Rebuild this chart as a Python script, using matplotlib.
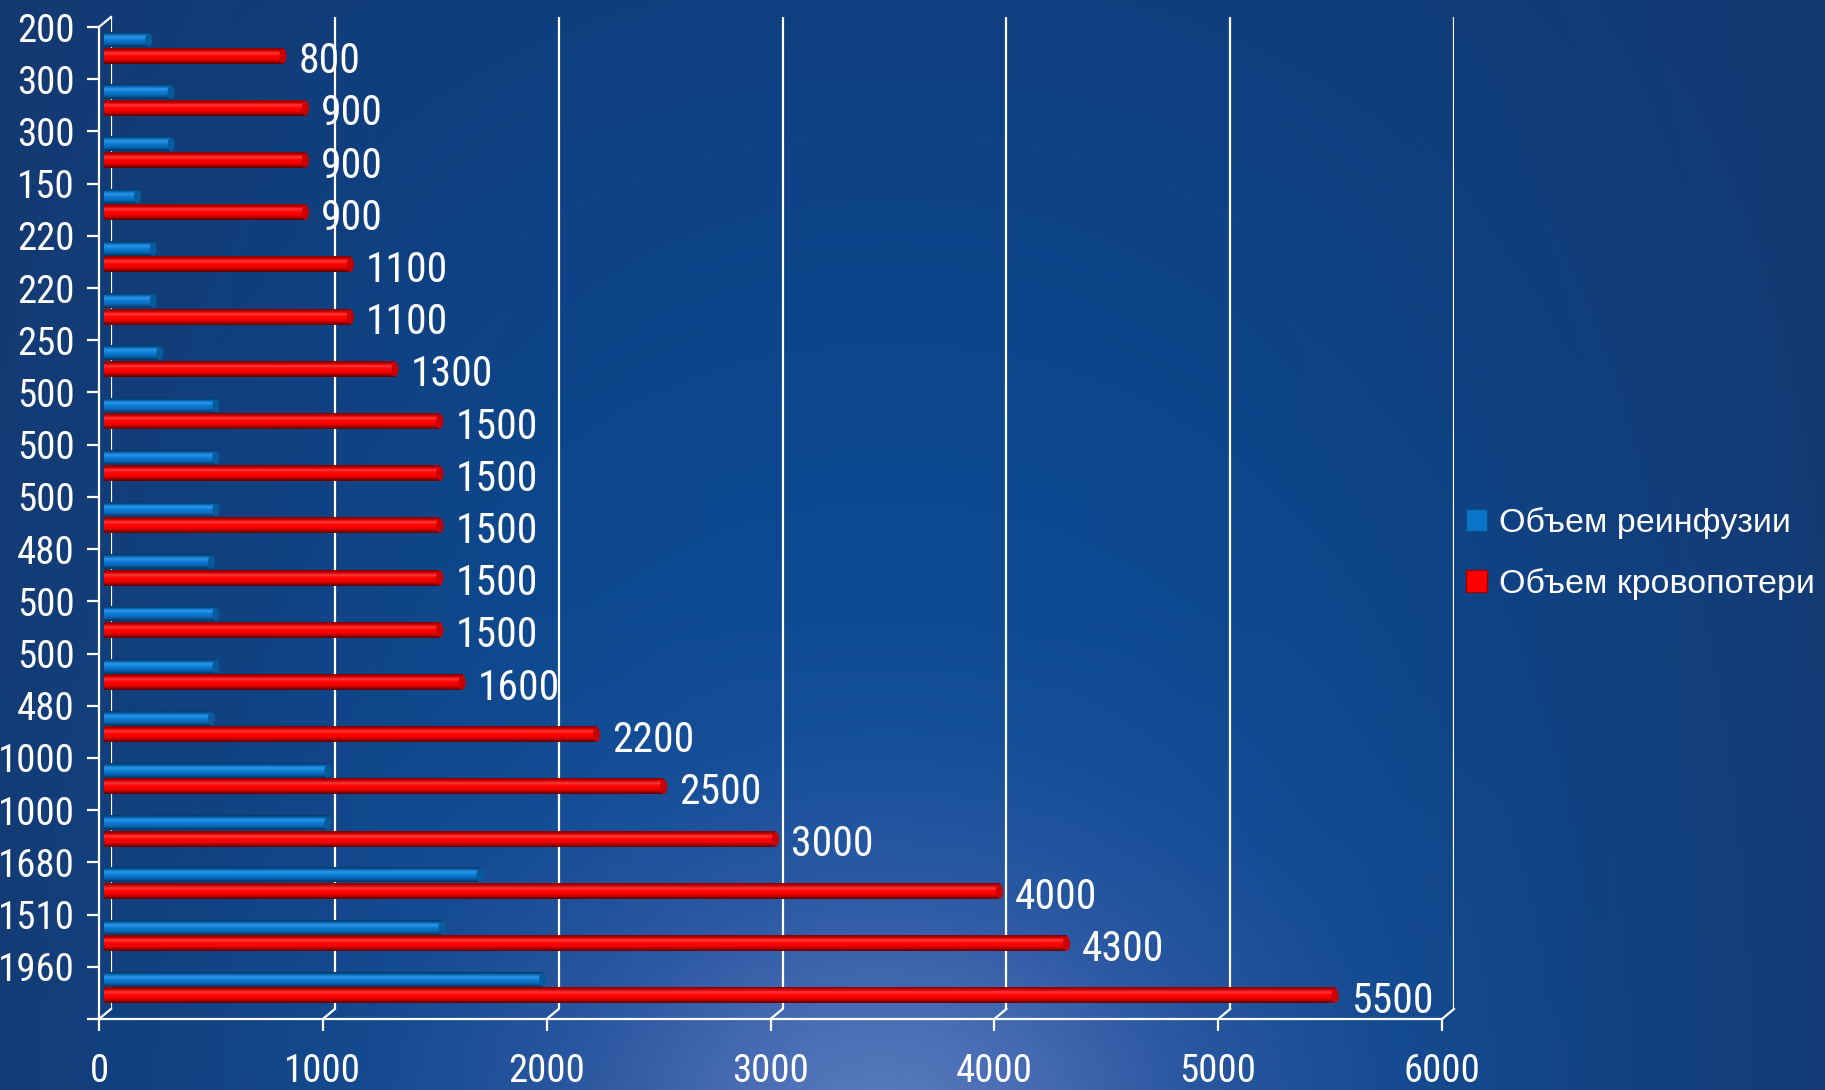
import numpy as np
import matplotlib
matplotlib.use("Agg")
import matplotlib.pyplot as plt
from matplotlib import font_manager
from matplotlib.colors import to_rgb
from matplotlib.lines import Line2D
from matplotlib.patches import Patch, Ellipse

# blood volume per patient, ml
reinfusion = [200, 300, 300, 150, 220, 220, 250, 500, 500, 500,
              480, 500, 500, 480, 1000, 1000, 1680, 1510, 1960]
blood_loss = [800, 900, 900, 900, 1100, 1100, 1300, 1500, 1500, 1500,
              1500, 1500, 1600, 2200, 2500, 3000, 4000, 4300, 5500]
x_ticks = [0, 1000, 2000, 3000, 4000, 5000, 6000]
legend_labels = ["Объем реинфузии", "Объем кровопотери"]

W, H = 1825, 1090


def box(left, top, right, bottom):
    # pixel rectangle -> figure fraction
    return [left / W, 1 - bottom / H, (right - left) / W, (bottom - top) / H]


def narrow_font():
    # returns (family, stretch) of the narrowest sans available
    fonts = font_manager.fontManager.ttflist
    names = set(f.name for f in fonts)
    for n in ["Liberation Sans Narrow", "Arial Narrow", "Roboto Condensed",
              "Open Sans Condensed", "Noto Sans Condensed"]:
        if n in names:
            return n, "normal"
    for f in fonts:
        if f.name in ("Roboto", "Noto Sans", "Open Sans", "DejaVu Sans") and \
                "ondensed" in f.fname and "Bold" not in f.fname and \
                "Italic" not in f.fname and "Oblique" not in f.fname:
            return f.name, "condensed"
    for n in ["Roboto", "Liberation Sans"]:
        if n in names:
            return n, "normal"
    return "DejaVu Sans", "normal"


def background():
    yy, xx = np.mgrid[0:H, 0:W].astype(float)
    d = np.sqrt(((xx - 880) / 700.0) ** 2 + ((yy - 1120) / 520.0) ** 2)
    stops = [0.0, 0.2, 0.45, 0.75, 1.1, 1.6, 2.4]
    cols = np.array([[0.36, 0.49, 0.75],
                     [0.29, 0.43, 0.71],
                     [0.17, 0.35, 0.64],
                     [0.08, 0.31, 0.60],
                     [0.05, 0.29, 0.57],
                     [0.05, 0.27, 0.54],
                     [0.06, 0.24, 0.49]])
    img = np.zeros((H, W, 3))
    for c in range(3):
        img[..., c] = np.interp(d, stops, cols[:, c])
    # darker towards the left and right edges
    edge = np.clip(np.abs(xx - 900) / 920.0, 0, 1) ** 2.2
    dark = np.array([0.09, 0.22, 0.43])
    img = img * (1 - 0.75 * edge[..., None]) + dark * 0.75 * edge[..., None]
    return np.clip(img, 0, 1)


def cylinder(ax, y, h, val, profile, cap):
    grad = np.array([to_rgb(c) for c in profile])[:, None, :]
    ax.imshow(grad, extent=(0, val, y + h / 2, y - h / 2), aspect="auto",
              interpolation="bilinear", zorder=3)
    ax.add_patch(Ellipse((0, y), 28, h, facecolor=profile[len(profile) // 2],
                         edgecolor="none", zorder=2))
    ax.add_patch(Ellipse((val, y), 32, h * 0.96, facecolor=cap,
                         edgecolor="none", zorder=4))


def main():
    family, stretch = narrow_font()
    plt.rcParams["font.family"] = [family, "DejaVu Sans"]
    plt.rcParams["font.stretch"] = stretch
    wide = family in ("Roboto", "Liberation Sans", "DejaVu Sans") and stretch == "normal"
    num_size = 26 if wide else 30
    tick_size = 24 if wide else 28

    fig = plt.figure(figsize=(W / 100, H / 100), dpi=100)

    ax_bg = fig.add_axes([0, 0, 1, 1], zorder=-10)
    ax_bg.imshow(background(), aspect="auto", extent=(0, 1, 0, 1))
    ax_bg.axis("off")

    n = len(reinfusion)

    # back wall with the grid
    ax_back = fig.add_axes(box(111, 17, 1454, 1009), zorder=1)
    ax_back.set_xlim(0, 6000)
    ax_back.set_ylim(n, 0)
    ax_back.patch.set_visible(False)
    for s in ax_back.spines.values():
        s.set_visible(False)
    ax_back.set_xticks([])
    ax_back.set_yticks([])
    for x in x_ticks:
        ax_back.axvline(x, color="white", lw=1.6)

    # bars
    ax_bars = fig.add_axes(box(104, 22, 1447, 1014), zorder=2)
    ax_bars.patch.set_visible(False)
    ax_bars.axis("off")
    blue_prof = ["#05406f", "#0a6cc0", "#2a95e6", "#1a88dc", "#0b78d0",
                 "#0a6ebf", "#08589c", "#063a6c"]
    red_prof = ["#8a0000", "#e00000", "#ff3a3a", "#ff1010", "#ff0000",
                "#f00000", "#c00000", "#6a0000"]
    for i in range(n):
        cylinder(ax_bars, i + 0.345, 0.27, reinfusion[i], blue_prof, "#075a9c")
        cylinder(ax_bars, i + 0.65, 0.29, blood_loss[i], red_prof, "#c80000")
        ax_bars.text(blood_loss[i] + 70, i + 0.76, str(blood_loss[i]),
                     color="white", fontsize=num_size, va="center", ha="left")
    ax_bars.set_xlim(0, 6000)
    ax_bars.set_ylim(n, 0)

    # front frame with the ticks
    ax = fig.add_axes(box(99, 27, 1442, 1019), zorder=3)
    ax.patch.set_visible(False)
    ax.set_xlim(0, 6000)
    ax.set_ylim(n, 0)
    ax.spines["top"].set_visible(False)
    ax.spines["right"].set_visible(False)
    for s in ("left", "bottom"):
        ax.spines[s].set_color("white")
        ax.spines[s].set_linewidth(1.6)
    ax.set_xticks(x_ticks)
    ax.set_xticklabels([str(v) for v in x_ticks])
    ax.set_yticks(range(n + 1))
    ax.set_yticklabels([str(v) for v in reinfusion] + [""])
    ax.tick_params(axis="both", colors="white", width=1.6, length=8.5,
                   direction="out")
    ax.tick_params(axis="y", labelsize=tick_size, pad=9)
    ax.tick_params(axis="x", labelsize=tick_size, pad=16)

    # depth edges between front frame and back wall
    to_fig = fig.transFigure.inverted()
    pairs = [((x, n), (x, n)) for x in x_ticks] + [((0, 0), (0, 0))]
    for p_front, p_back in pairs:
        a = to_fig.transform(ax.transData.transform(p_front))
        b = to_fig.transform(ax_back.transData.transform(p_back))
        fig.add_artist(Line2D([a[0], b[0]], [a[1], b[1]], color="white",
                              lw=1.6, transform=fig.transFigure, zorder=5))

    handles = [Patch(facecolor="#0a74c8", edgecolor="#0a4f8a"),
               Patch(facecolor="#ff0000", edgecolor="#a00000")]
    fig.legend(handles, legend_labels, loc="center left",
               bbox_to_anchor=(1466 / W, 1 - 553.5 / H), frameon=False,
               prop={"family": ["Liberation Sans", "DejaVu Sans"], "size": 24.5,
                     "stretch": "normal"},
               labelcolor="white",
               handlelength=0.62, handleheight=0.62, handletextpad=0.36,
               labelspacing=0.86, borderpad=0, borderaxespad=0)

    fig.savefig("out.png", dpi=100)


if __name__ == "__main__":
    main()
